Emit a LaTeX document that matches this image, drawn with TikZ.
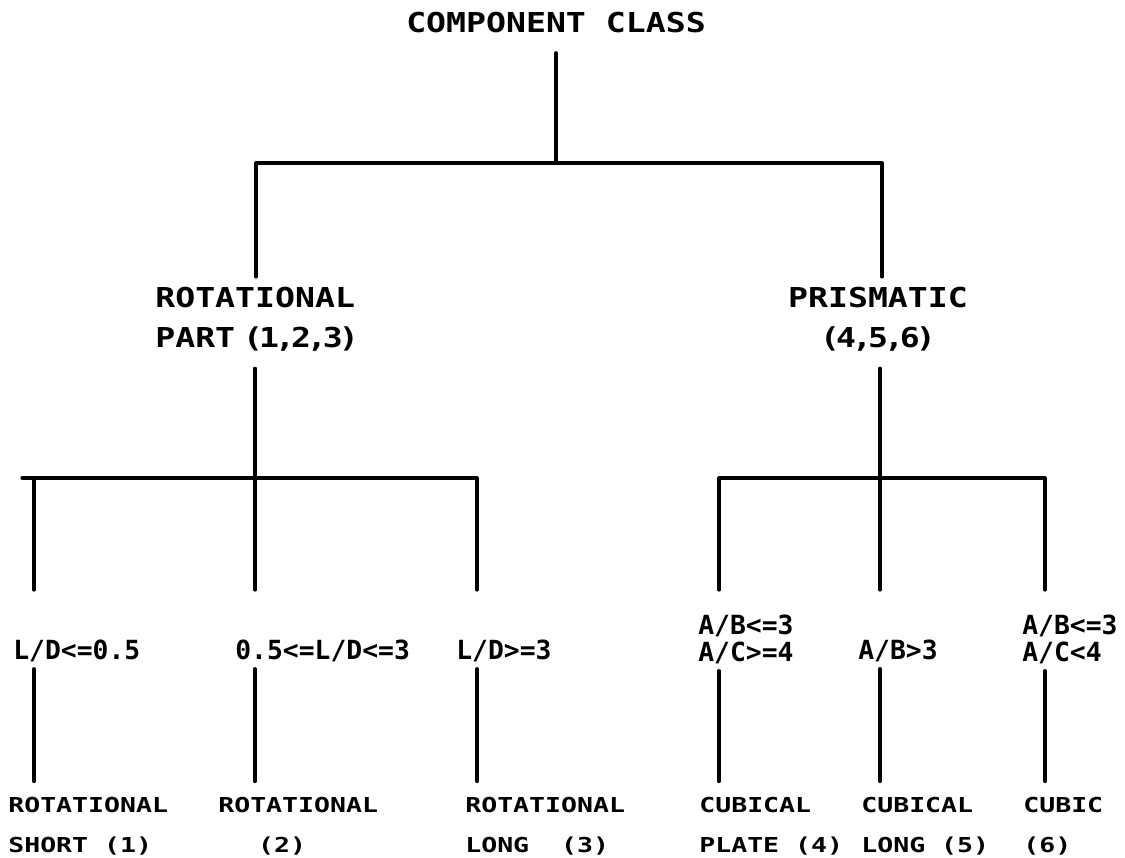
\documentclass[tikz,border=0pt]{standalone}
\usepackage{fontspec}
\setmonofont{DejaVu Sans Mono}
\newfontfamily\plotfont[FakeStretch=1.21]{DejaVu Sans Mono}
\newfontfamily\wideplotfont[FakeStretch=1.29]{DejaVu Sans Mono}
\usepackage{tikz}
\usetikzlibrary{positioning}

% narrow punctuation of the plotter lettering
\newcommand\nar[1]{\makebox[6.8pt]{#1}}

\tikzset{
  big/.style={font=\plotfont\bfseries\fontsize{15.6}{22.7}\selectfont, inner sep=0pt},
  cond/.style={font=\ttfamily\bfseries\fontsize{15}{15.3}\selectfont, inner sep=0pt, align=left, anchor=north west},
  part/.style={font=\wideplotfont\bfseries\fontsize{11.7}{22.7}\selectfont, inner sep=0pt, align=left, anchor=north west},
  link/.style={line width=1.8pt, line cap=round},
}

\begin{document}
\begin{tikzpicture}[x=0.02cm, y=-0.02cm]
  \useasboundingbox (0,0) rectangle (1125,858);
  % classes
  \node[big] (cls) at (556,23) {COMPONENT CLASS};
  \node[big, align=left, anchor=north west] (rot) at (155,287)
    {ROTATIONAL\\PART\nar{ }\nar{(}1\nar{,}2\nar{,}3\nar{)}};
  \node[big, align=center, anchor=north] (pri) at (878,287)
    {PRISMATIC\\\nar{(}4\nar{,}5\nar{,}6\nar{)}};
  % conditions
  \node[cond] (c1) at (13,640) {L/D<=0.5};
  \node[cond] (c2) at (235,640) {0.5<=L/D<=3};
  \node[cond] (c3) at (456,640) {L/D>=3};
  \node[cond] (c4) at (698,615) {A/B<=3\\A/C>=4};
  \node[cond] (c5) at (858,640) {A/B>3};
  \node[cond] (c6) at (1022,615) {A/B<=3\\A/C<4};
  % parts
  \node[part] (p1) at (8,797) {ROTATIONAL\\SHORT (1)};
  \node[part] (p2) at (218,797) {ROTATIONAL\\\hspace*{22.7pt}(2)};
  \node[part] (p3) at (465,797) {ROTATIONAL\\LONG~~(3)};
  \node[part] (p4) at (699,797) {CUBICAL\\PLATE (4)};
  \node[part] (p5) at (861,797) {CUBICAL\\LONG (5)};
  \node[part] (p6) at (1023,797) {CUBIC\\(6)};

  % bars
  \coordinate (b0) at (556,163);
  \coordinate (b1) at (256,163);
  \coordinate (b2) at (882,163);
  \coordinate (k0) at (22,478);
  \coordinate (k1) at (34,478);
  \coordinate (k2) at (255,478);
  \coordinate (k3) at (477,478);
  \coordinate (k4) at (719,478);
  \coordinate (k5) at (880,478);
  \coordinate (k6) at (1045,478);
  \draw[link] (b1) -- (b2);
  \draw[link] (k0) -- (k3);
  \draw[link] (k4) -- (k6);

  \draw[link, shorten <=0.38cm] (cls) -- (b0);
  \draw[link, shorten >=0.2cm] (b1) -- (b1 |- rot.north);
  \draw[link, shorten >=0.2cm] (b2) -- (b2 |- pri.north);
  \draw[link, shorten <=0.33cm] (k2 |- rot.south) -- (k2);
  \draw[link, shorten <=0.33cm] (k5 |- pri.south) -- (k5);
  \foreach \k/\c/\g in {k1/c1/1.0, k2/c2/1.0, k3/c3/1.0, k4/c4/0.5, k5/c5/1.0, k6/c6/0.5}
    \draw[link, shorten >=\g cm] (\k) -- (\k |- \c.north);
  \foreach \k/\c/\p in {k1/c1/p1, k2/c2/p2, k3/c3/p3, k4/c4/p4, k5/c5/p5, k6/c6/p6}
    \draw[link, shorten <=0.12cm, shorten >=0.31cm] (\k |- \c.south) -- (\k |- \p.north);
\end{tikzpicture}
\end{document}
